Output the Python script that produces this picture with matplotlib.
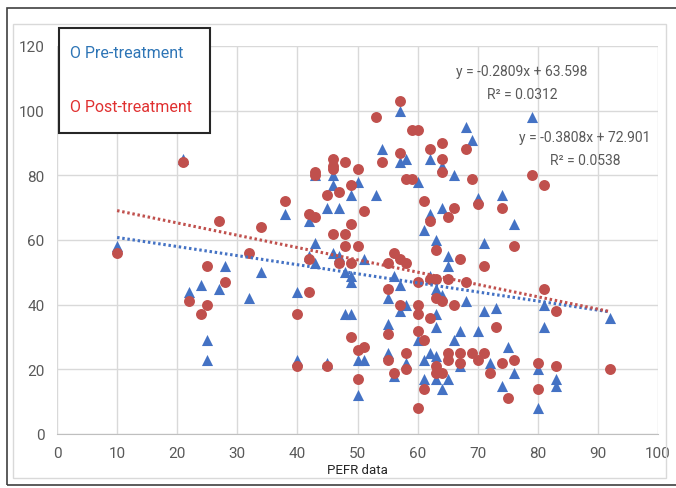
import matplotlib
matplotlib.use("Agg")
import matplotlib.pyplot as plt
from matplotlib.patches import Rectangle
import numpy as np

# ---- data ----
pre_x = [10, 21, 22, 24, 25, 25, 27, 28, 32, 34, 38, 40, 40, 42, 42, 43, 43, 43, 45, 45,
         46, 46, 46, 47, 47, 48, 48, 49, 49, 49, 49, 50, 50, 50, 51, 51, 53, 54, 55, 55,
         55, 56, 56, 57, 57, 57, 57, 58, 58, 58, 60, 60, 61, 61, 61, 62, 62, 62, 62, 63,
         63, 63, 63, 63, 63, 64, 64, 64, 64, 65, 65, 65, 66, 66, 67, 67, 68, 68, 69, 70,
         70, 71, 71, 72, 73, 74, 74, 75, 76, 76, 79, 80, 80, 81, 81, 83, 83, 92]
pre_y = [58, 85, 44, 46, 29, 23, 45, 52, 42, 50, 68, 44, 23, 66, 55, 80, 59, 53, 70, 22,
         80, 77, 56, 70, 55, 50, 37, 74, 49, 47, 37, 78, 23, 12, 54, 23, 74, 88, 42, 34,
         25, 49, 18, 100, 84, 46, 38, 85, 40, 22, 78, 29, 63, 23, 17, 85, 68, 49, 25, 60,
         45, 37, 33, 24, 17, 83, 70, 43, 14, 55, 52, 17, 80, 29, 32, 21, 95, 41, 91, 73,
         32, 59, 38, 22, 39, 74, 15, 27, 65, 19, 98, 20, 8, 40, 33, 17, 15, 36]

post_x = [10, 21, 22, 24, 25, 25, 27, 28, 32, 34, 38, 40, 40, 42, 42, 42, 43, 43, 43, 45,
          45, 46, 46, 46, 46, 47, 47, 48, 48, 48, 49, 49, 49, 49, 50, 50, 50, 50, 51, 51,
          53, 54, 55, 55, 55, 55, 56, 56, 57, 57, 57, 57, 58, 58, 58, 58, 59, 59, 60, 60,
          60, 60, 60, 60, 61, 61, 61, 62, 62, 62, 62, 63, 63, 63, 63, 63, 64, 64, 64, 64,
          64, 65, 65, 65, 65, 66, 66, 67, 67, 67, 68, 68, 69, 69, 70, 70, 71, 71, 72, 73,
          74, 74, 75, 76, 76, 79, 80, 80, 81, 81, 83, 83, 92]
post_y = [56, 84, 41, 37, 52, 40, 66, 47, 56, 64, 72, 37, 21, 68, 54, 44, 81, 80, 67, 74,
          21, 85, 83, 82, 62, 75, 53, 84, 62, 58, 77, 65, 53, 30, 82, 58, 26, 17, 69, 27,
          98, 84, 53, 45, 31, 23, 56, 19, 103, 87, 54, 40, 79, 53, 25, 20, 94, 79, 94, 47,
          40, 37, 32, 8, 72, 29, 14, 88, 66, 48, 36, 57, 48, 42, 21, 19, 90, 85, 81, 41,
          19, 67, 48, 25, 23, 70, 40, 54, 25, 22, 88, 47, 79, 25, 71, 23, 52, 25, 19, 33,
          70, 22, 11, 58, 23, 80, 22, 14, 77, 45, 38, 21, 20]

# trend line coefficients (as printed on chart)
pre_slope, pre_intercept, pre_r2 = -0.2809, 63.598, 0.0312
post_slope, post_intercept, post_r2 = -0.3808, 72.901, 0.0538

x_ticks = [0, 10, 20, 30, 40, 50, 60, 70, 80, 90, 100]
y_ticks = [0, 20, 40, 60, 80, 100, 120]

BLUE = "#4472C4"
RED = "#C0504D"
GRAY = "#595959"
FONT = ["Roboto", "DejaVu Sans"]

W, H = 676, 489
fig = plt.figure(figsize=(W / 100, H / 100), dpi=100)

def fx(px):
    return px / W

def fy(py):
    return 1 - py / H

# outer frames
fig.patches.append(Rectangle((fx(7), fy(486)), fx(680) - fx(7), fy(9) - fy(486),
                             transform=fig.transFigure, fill=False, edgecolor="#404040", lw=1.2))
fig.patches.append(Rectangle((fx(13), fy(479)), fx(666) - fx(13), fy(25) - fy(479),
                             transform=fig.transFigure, fill=False, edgecolor="#D9D9D9", lw=1.0))

ax = fig.add_axes([fx(57), fy(435), fx(658) - fx(57), fy(47) - fy(435)])
ax.set_xlim(0, 100)
ax.set_ylim(0, 120)
ax.set_xticks(x_ticks)
ax.set_yticks(y_ticks)
ax.grid(True, color="#D9D9D9", lw=1.0)
ax.set_axisbelow(True)
for s in ["top", "right", "left"]:
    ax.spines[s].set_visible(False)
ax.spines["bottom"].set_color("#BFBFBF")
ax.tick_params(length=0, labelcolor=GRAY, labelsize=11, pad=9)
for lab in ax.get_xticklabels() + ax.get_yticklabels():
    lab.set_family(FONT)

ax.scatter(pre_x, pre_y, marker="^", s=64, color=BLUE, zorder=3, linewidths=0)
ax.scatter(post_x, post_y, marker="o", s=62, color=RED, zorder=4, linewidths=0)

xs = np.array([min(pre_x), max(pre_x)])
ax.plot(xs, pre_slope * xs + pre_intercept, color=BLUE, lw=2.2,
        linestyle=(0, (0.8, 0.9)), zorder=5)
xs2 = np.array([min(post_x), max(post_x)])
ax.plot(xs2, post_slope * xs2 + post_intercept, color=RED, lw=2.2,
        linestyle=(0, (0.8, 0.9)), zorder=5)

ax.set_xlabel("PEFR data", fontsize=9.5, color="#262626", family=FONT, labelpad=2)

# equations
EQ = 10
fig.text(fx(522), fy(72), f"y = {pre_slope}x + {pre_intercept}", ha="center", va="center",
         fontsize=EQ, color=GRAY, family=FONT)
fig.text(fx(522), fy(95), f"R² = {pre_r2}", ha="center", va="center",
         fontsize=EQ, color=GRAY, family=FONT)
fig.text(fx(585), fy(138), f"y = {post_slope}x + {post_intercept}", ha="center", va="center",
         fontsize=EQ, color=GRAY, family=FONT)
fig.text(fx(585), fy(161), f"R² = {post_r2}", ha="center", va="center",
         fontsize=EQ, color=GRAY, family=FONT)

# legend box
fig.patches.append(Rectangle((fx(59), fy(134)), fx(210) - fx(59), fy(29) - fy(134),
                             transform=fig.transFigure, facecolor="white",
                             edgecolor="#262626", lw=1.5, zorder=10))
fig.text(fx(70), fy(53), "O Pre-treatment", ha="left", va="center", fontsize=11.5,
         color="#2E75B6", family=FONT, zorder=11)
fig.text(fx(70), fy(107), "O Post-treatment", ha="left", va="center", fontsize=11.5,
         color="#E03030", family=FONT, zorder=11)

fig.savefig("out.png", dpi=100)
